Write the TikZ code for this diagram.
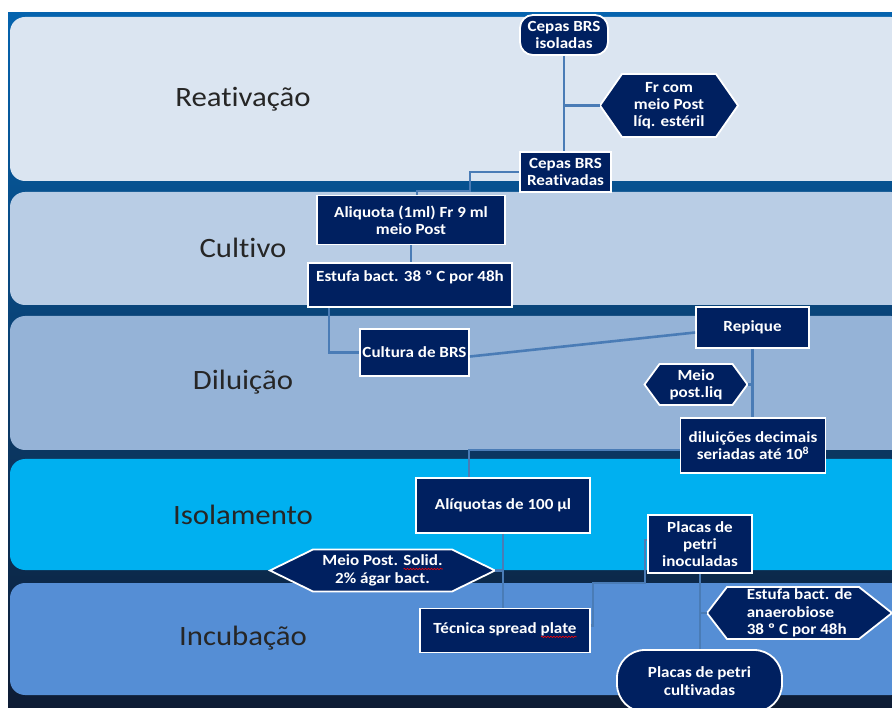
\documentclass[tikz,border=0pt]{standalone}
\usepackage{fontspec}
\setmainfont{Carlito}[FakeStretch=1.1, Ligatures=NoCommon]
\usetikzlibrary{decorations.pathmorphing}

% colours of the flow chart
\definecolor{bgtop}{RGB}{5,99,174}
\definecolor{bgbot}{RGB}{14,28,52}
\definecolor{laneA}{HTML}{DBE5F1}
\definecolor{laneB}{HTML}{B9CDE5}
\definecolor{laneC}{HTML}{95B3D7}
\definecolor{laneD}{HTML}{00B0F0}
\definecolor{laneE}{HTML}{558ED5}
\definecolor{boxfill}{RGB}{0,32,96}
\definecolor{linkblue}{RGB}{74,124,182}
\definecolor{labelgray}{HTML}{262626}

\newcommand\boxfont{\fontsize{15.5}{17.3}\selectfont\bfseries}
\newcommand\lanefont{\fontsize{28}{30}\selectfont}
% red wavy underline (spell-check mark) under a word
\newsavebox\wavebox
\newcommand\redwave[1]{\sbox\wavebox{#1}\rlap{\tikz[baseline=0pt,x=1pt,y=1pt]
  \draw[red, line width=0.6pt, decorate, decoration={snake, amplitude=0.7pt, segment length=3pt}]
  (0,-3) -- (\the\wd\wavebox,-3);}\usebox\wavebox}

\tikzset{
  box/.style={draw=white, line width=1.8pt, fill=boxfill, text=white,
    font=\boxfont, align=center, inner sep=1pt},
  hextext/.style={text=white, font=\boxfont, align=center, inner sep=0pt},
  hexshape/.style={fill=boxfill, draw=white, line width=1.8pt, line join=miter},
  link/.style={draw=linkblue, line width=2.6pt},
  lanelabel/.style={text=labelgray, font=\lanefont, inner sep=0pt},
}

% hexagon: name, cx, cy, width, height, left tip, right tip, extra style, text
\newcommand\hexnode[9]{%
  \path[hexshape] ({#2-#4/2},#3) -- ({#2-#4/2+#6},{#3-#5/2}) -- ({#2+#4/2-#7},{#3-#5/2})
    -- ({#2+#4/2},#3) -- ({#2+#4/2-#7},{#3+#5/2}) -- ({#2-#4/2+#6},{#3+#5/2}) -- cycle;
  \node[hextext, minimum width=#4, minimum height=#5, #8] (#1) at (#2,#3) {#9};
}

\begin{document}
\begin{tikzpicture}[x=1pt,y=-1pt]
\useasboundingbox (0,0) rectangle (892,708);

% backdrop and the five stage lanes
\shade[top color=bgtop, bottom color=bgbot] (8,13) rectangle (892,708);
\foreach \ya/\yb/\col in {17/181/laneA, 192/305/laneB, 316/450/laneC, 459/570/laneD, 583/695/laneE}
  \fill[\col, rounded corners=15] (10,\ya) rectangle (906,\yb);

\node[lanelabel] (lab1) at (243,99) {Reativação};
\node[lanelabel] (lab2) at (243,248) {Cultivo};
\node[lanelabel] (lab3) at (243,382) {Diluição};
\node[lanelabel] (lab4) at (243,515) {Isolamento};
\node[lanelabel] (lab5) at (243,638) {Incubação};

% steps
\node[box, rounded corners=13, minimum width=88, minimum height=40] (iso) at (564,35) {Cepas BRS\\isoladas};
\hexnode{fr}{669}{105.5}{138}{63}{22}{22}{}{Fr com\\meio Post\\líq. estéril}
\node[box, minimum width=91, minimum height=40] (reat) at (565.5,172) {Cepas BRS\\Reativadas};

\node[box, minimum width=188, minimum height=49] (aliq) at (411,220) {Aliquota (1ml) Fr 9 ml\\meio Post};
\node[box, minimum width=204, minimum height=44] (estufa) at (410,285) {Estufa bact. 38 º C por 48h\\\mbox{}};

\node[box, minimum width=109, minimum height=47, inner sep=0pt] (cult) at (414.5,352.5) {Cultura de BRS};
\node[box, minimum width=113, minimum height=41] (rep) at (752.5,327.5) {Repique};
\hexnode{meio}{696}{384.5}{103}{41}{15}{15}{}{Meio\\post.liq}
\node[box, minimum width=145, minimum height=55] (dil) at (753,445.5) {diluições decimais\\seriadas até 10\textsuperscript{8}};

\node[box, minimum width=174, minimum height=55] (al100) at (503,505.5) {Alíquotas de 100 µl};
\hexnode{solid}{382.5}{570.5}{225}{42}{43}{43}{}{Meio Post. \redwave{Solid.}\\2\% ágar bact.}
\node[box, minimum width=104, minimum height=58] (pin) at (700,544) {Placas de\\petri\\inoculadas};

\node[box, minimum width=170, minimum height=44] (tec) at (505,630.5) {Técnica spread \redwave{plate}};
\hexnode{anaer}{799.5}{613}{185}{52}{20}{33}{align=left}{Estufa bact. de\\anaerobiose\\38 º C por 48h}
\node[box, rounded corners=28, minimum width=165, minimum height=62] (pcult) at (699.5,681) {Placas de petri\\cultivadas};

% connectors
\draw[link] (iso.south) -- (iso.south |- reat.north);
\draw[link] (iso.south |- fr.west) -- (fr.west);
\draw[link] (reat.west) -| (470,191) -| ([xshift=6]aliq.north);
\draw[link] (aliq.south) -- (aliq.south |- estufa.north);
\draw[link] ([xshift=-81]estufa.south) |- (cult.west);
\draw[link] ([yshift=-4]cult.east) -- ([yshift=-5]rep.west);
\draw[link] (rep.south) -- (rep.south |- dil.north);
\draw[link] (rep.south |- meio.east) -- (meio.east);
\draw[link] ([yshift=-4.5]dil.west) -| ([xshift=-34]al100.north);
\draw[link] (al100.south) -- (al100.south |- tec.north);
\draw[link] (solid.east) -- (al100.south |- solid.east);
\draw[link] ([yshift=5]tec.east) -- ++(2,0) |- (645,583) |- ([yshift=4]pin.west);
\draw[link] (pin.south) -- (pin.south |- pcult.north);
\draw[link] (pin.south |- anaer.west) -- (anaer.west);
\end{tikzpicture}
\end{document}
